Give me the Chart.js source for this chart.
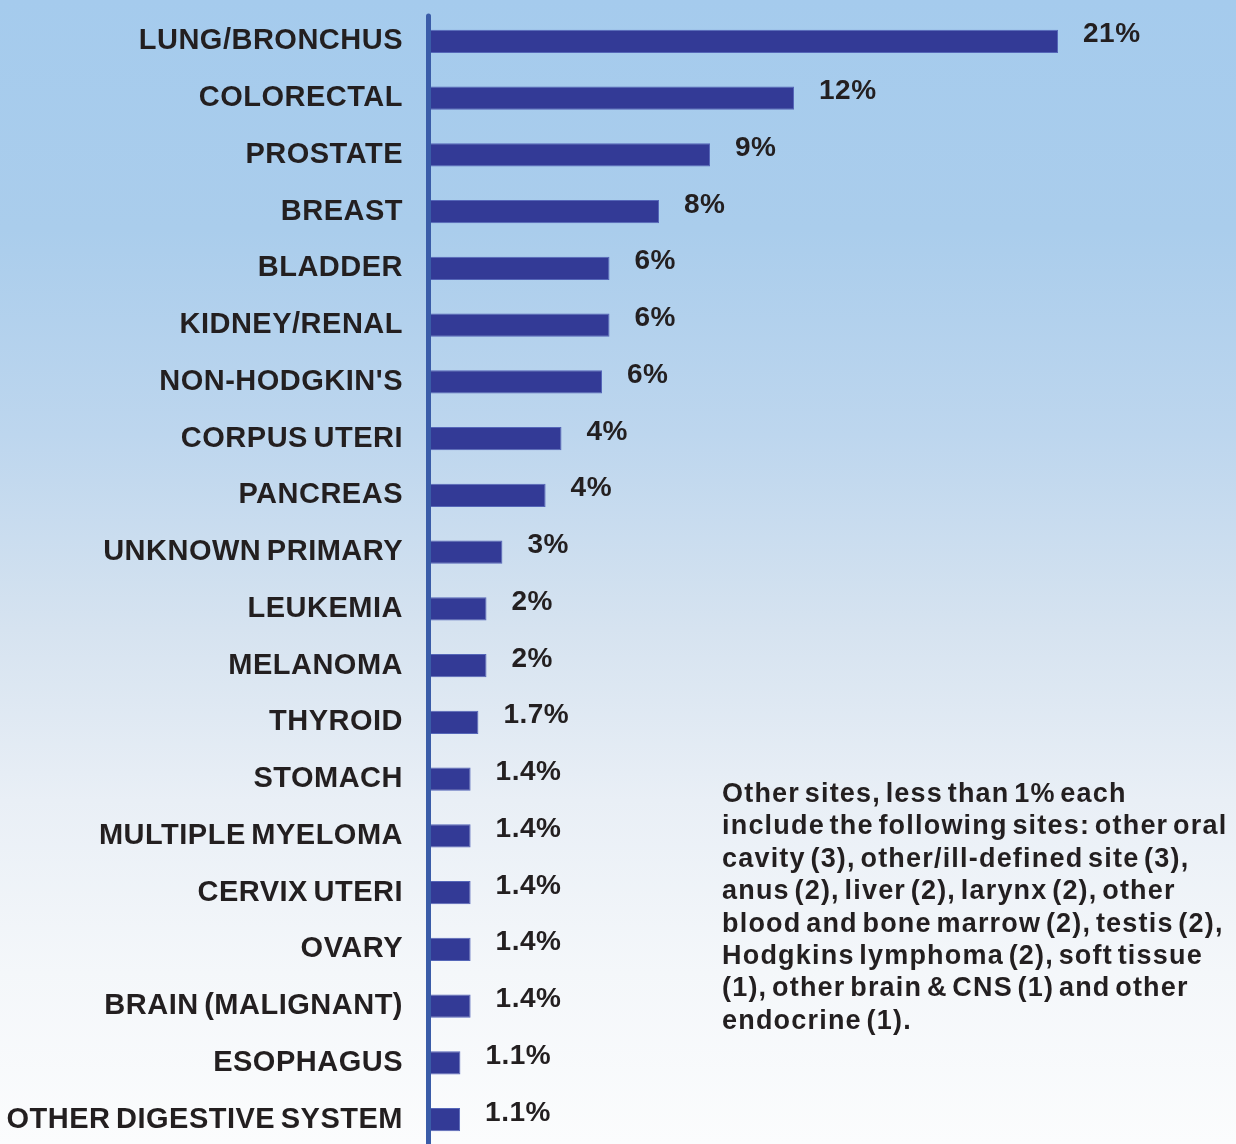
<!DOCTYPE html>
<html>
<head>
<meta charset="utf-8">
<script src="https://cdn.jsdelivr.net/npm/chart.js@4.4.1/dist/chart.umd.min.js"></script>
<style>
  html, body { margin: 0; padding: 0; width: 1236px; height: 1144px; overflow: hidden; }
  #page {
    position: relative; width: 1236px; height: 1144px; overflow: hidden;
    background: linear-gradient(to bottom, #a5cbed 0%, #aacdec 20%, #bdd6ee 38%, #d6e3f0 55%, #e9eff6 70%, #f4f7fa 85%, #fbfcfd 100%);
  }
  #wrap { position: absolute; left: 0; top: 0; width: 1236px; height: 1148px; }
  #note {
    position: absolute; left: 722px; top: 777px;
    font-family: "Liberation Sans", Arial, sans-serif; font-weight: bold;
    font-size: 27px; line-height: 32.4px; color: #231f20;
    letter-spacing: 1.2px; word-spacing: -4px; white-space: nowrap;
  }
</style>
</head>
<body>
<div id="page">
  <div id="wrap"><canvas id="c"></canvas></div>
  <div id="note">Other sites, less than 1% each<br>include the following sites: other oral<br>cavity (3), other/ill-defined site (3),<br>anus (2), liver (2), larynx (2), other<br>blood and bone marrow (2), testis (2),<br>Hodgkins lymphoma (2), soft tissue<br>(1), other brain &amp; CNS (1) and other<br>endocrine (1).</div>
</div>
<script>
const categories = [
  "LUNG/BRONCHUS", "COLORECTAL", "PROSTATE", "BREAST", "BLADDER",
  "KIDNEY/RENAL", "NON-HODGKIN'S", "CORPUS UTERI", "PANCREAS", "UNKNOWN PRIMARY",
  "LEUKEMIA", "MELANOMA", "THYROID", "STOMACH", "MULTIPLE MYELOMA",
  "CERVIX UTERI", "OVARY", "BRAIN (MALIGNANT)", "ESOPHAGUS", "OTHER DIGESTIVE SYSTEM"
];
const values = [
  21.0, 12.2, 9.4, 7.7, 6.05,
  6.05, 5.8, 4.45, 3.92, 2.48,
  1.95, 1.95, 1.68, 1.42, 1.42,
  1.42, 1.42, 1.42, 1.08, 1.07
];
const valueLabels = [
  "21%", "12%", "9%", "8%", "6%",
  "6%", "6%", "4%", "4%", "3%",
  "2%", "2%", "1.7%", "1.4%", "1.4%",
  "1.4%", "1.4%", "1.4%", "1.1%", "1.1%"
];

const FONT = '"Liberation Sans", Arial, sans-serif';

function setSpacing(ctx) {
  ctx.letterSpacing = '0.5px';
  ctx.wordSpacing = '-3px';
}
const spacingPlugin = {
  id: 'spacing',
  beforeLayout(chart) { setSpacing(chart.ctx); },
  beforeDraw(chart) { setSpacing(chart.ctx); }
};

const overlayPlugin = {
  id: 'overlay',
  afterDatasetsDraw(chart) {
    const ctx = chart.ctx;
    const area = chart.chartArea;
    ctx.save();
    ctx.font = 'bold 28px ' + FONT;
    ctx.fillStyle = '#231f20';
    ctx.textAlign = 'left';
    ctx.textBaseline = 'alphabetic';
    const meta = chart.getDatasetMeta(0);
    meta.data.forEach((bar, i) => {
      ctx.fillText(valueLabels[i], bar.x + 25, bar.y + 1);
    });
    ctx.strokeStyle = '#3a5ca8';
    ctx.lineWidth = 5;
    ctx.lineCap = 'round';
    ctx.beginPath();
    ctx.moveTo(area.left + 0.5, 16);
    ctx.lineTo(area.left + 0.5, 1160);
    ctx.stroke();
    ctx.restore();
  }
};

new Chart(document.getElementById('c'), {
  type: 'bar',
  data: {
    labels: categories,
    datasets: [{
      data: values,
      backgroundColor: '#333a96',
      borderColor: '#5566b8',
      borderWidth: 1,
      barPercentage: 0.41,
      categoryPercentage: 1.0
    }]
  },
  options: {
    indexAxis: 'y',
    responsive: true,
    maintainAspectRatio: false,
    animation: false,
    events: [],
    layout: { padding: { top: 13, bottom: 0, left: 0, right: 58 } },
    plugins: { legend: { display: false }, tooltip: { enabled: false } },
    scales: {
      x: { display: false, min: 0, max: 25 },
      y: {
        grid: { display: false, drawTicks: false },
        border: { display: false },
        ticks: {
          autoSkip: false,
          padding: 25,
          color: '#231f20',
          font: { family: FONT, size: 29, weight: 'bold' }
        },
        afterFit(scale) {
          scale.width = 428;
          scale.paddingTop = 0;
          scale.paddingBottom = 0;
        }
      }
    }
  },
  plugins: [spacingPlugin, overlayPlugin]
});
</script>
</body>
</html>
